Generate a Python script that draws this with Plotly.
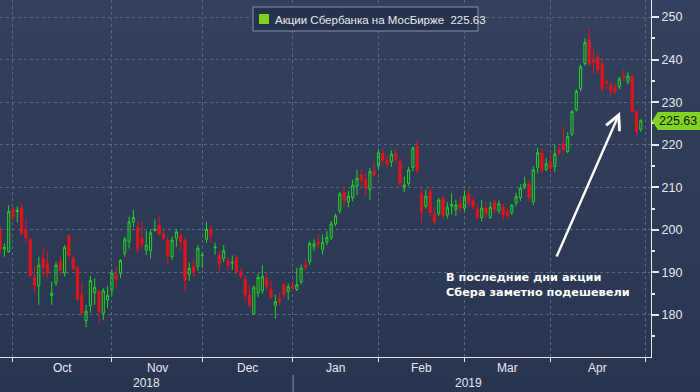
import plotly.graph_objects as go

# ---------------- data (trading-day index, OHLC) ----------------
open_ = [199.8, 195.5, 194.9, 204.8, 204.3, 205.1, 200.0, 197.8, 188.8, 186.9,
         193.3, 192.0, 184.6, 187.6, 192.5, 189.9, 198.6, 193.3, 191.1, 184.6,
         178.7, 182.2, 185.2, 185.6, 180.4, 183.5, 185.9, 189.4, 189.8, 194.5,
         197.2, 201.9, 200.5, 198.0, 195.3, 195.1, 199.9, 201.1, 199.0, 197.5,
         193.7, 198.0, 198.6, 197.6, 189.6, 191.5, 191.4, 194.0, 197.8, 200.1,
         195.8, 194.1, 193.3, 192.8, 192.2, 193.5, 190.2, 188.4, 184.7, 180.2,
         185.2, 185.7, 188.6, 186.1, 182.2, 183.7, 187.2, 185.5, 186.8, 186.0,
         187.8, 191.7, 192.5, 196.1, 197.2, 195.4, 197.2, 198.2, 201.4, 204.5,
         208.8, 206.6, 207.6, 210.3, 212.9, 211.9, 209.5, 213.8, 215.0, 218.0,
         216.4, 216.0, 218.0, 216.0, 210.0, 210.9, 214.7, 219.7, 208.6, 205.6,
         209.0, 203.7, 203.9, 207.4, 203.5, 205.6, 204.8, 206.1, 205.1, 208.4,
         206.9, 204.8, 202.9, 205.1, 202.9, 206.4, 204.5, 205.4, 204.3, 204.0,
         206.4, 207.6, 210.1, 210.8, 206.6, 214.7, 218.1, 214.2, 216.0, 214.9,
         218.9, 220.2, 218.4, 222.5, 228.2, 233.2, 239.1, 244.6, 240.1, 240.5,
         239.1, 234.8, 234.0, 233.5, 233.6, 236.1, 234.8, 236.0, 227.8, 223.6]
high = [200.9, 196.8, 205.8, 205.6, 205.5, 206.1, 202.5, 198.0, 191.5, 193.7,
        195.9, 195.0, 187.8, 192.5, 193.9, 196.4, 199.0, 194.1, 191.5, 187.6,
        182.4, 189.2, 188.6, 186.0, 186.3, 186.8, 190.7, 191.4, 193.1, 198.4,
        203.1, 204.7, 201.9, 201.9, 199.8, 200.0, 202.5, 203.5, 199.9, 198.3,
        198.4, 200.1, 199.3, 198.2, 192.4, 193.0, 196.4, 194.8, 201.8, 201.0,
        197.0, 195.2, 196.4, 193.6, 194.0, 194.0, 191.0, 189.2, 187.0, 186.9,
        189.8, 191.7, 190.0, 188.1, 184.8, 185.2, 187.6, 187.4, 187.5, 191.1,
        191.8, 193.2, 197.4, 197.8, 199.0, 198.9, 199.7, 202.1, 203.8, 208.9,
        210.1, 209.2, 211.8, 214.2, 214.3, 213.3, 214.5, 216.0, 219.0, 219.0,
        217.6, 218.7, 218.8, 216.8, 212.5, 214.8, 219.6, 221.0, 209.8, 209.4,
        209.9, 205.4, 207.5, 208.0, 206.5, 208.6, 207.1, 207.8, 209.3, 209.6,
        207.4, 206.1, 207.0, 206.5, 206.6, 207.3, 206.9, 206.2, 205.0, 206.1,
        208.7, 210.7, 212.5, 211.5, 215.0, 219.3, 219.3, 216.8, 218.0, 220.0,
        219.8, 224.2, 223.0, 228.2, 233.0, 238.8, 245.0, 247.3, 242.5, 241.8,
        239.8, 235.5, 234.8, 234.2, 236.0, 237.5, 237.0, 236.5, 228.0, 226.0]
low = [194.5, 193.7, 194.6, 202.3, 201.7, 198.8, 196.8, 189.0, 185.1, 182.4,
       188.8, 188.6, 182.4, 186.8, 189.4, 189.0, 193.3, 190.6, 183.5, 180.1,
       177.1, 180.5, 182.4, 178.2, 178.8, 181.6, 184.6, 186.6, 188.6, 193.7,
       195.6, 200.7, 194.5, 195.7, 194.1, 193.3, 199.6, 198.8, 197.5, 191.8,
       193.0, 196.0, 195.2, 185.5, 188.0, 189.0, 190.3, 191.0, 197.0, 197.0,
       194.2, 190.3, 192.4, 190.3, 190.6, 189.6, 188.5, 183.0, 181.9, 180.1,
       184.2, 185.0, 185.7, 183.9, 179.1, 182.3, 184.0, 183.4, 185.5, 185.6,
       187.2, 190.6, 191.8, 195.0, 195.6, 194.2, 196.4, 197.6, 200.9, 203.9,
       205.5, 205.3, 206.7, 208.2, 210.3, 207.9, 207.0, 212.3, 214.2, 215.2,
       214.4, 214.8, 215.6, 210.3, 208.9, 210.3, 213.7, 213.3, 201.7, 205.0,
       203.0, 201.3, 203.3, 202.5, 202.7, 203.6, 203.2, 204.1, 204.2, 205.4,
       204.8, 202.4, 202.0, 202.8, 202.6, 204.0, 203.8, 202.3, 202.9, 203.5,
       205.6, 206.8, 209.5, 206.5, 205.8, 213.3, 213.3, 213.8, 213.5, 213.6,
       217.5, 218.5, 218.0, 222.0, 227.8, 232.5, 238.5, 238.5, 236.8, 236.5,
       232.5, 233.0, 231.2, 231.8, 233.0, 235.0, 234.2, 227.5, 222.2, 223.0]
close = [195.3, 195.9, 204.3, 203.1, 204.6, 199.2, 198.2, 189.2, 186.9, 191.7,
         191.2, 189.8, 185.1, 191.7, 190.6, 195.9, 194.0, 190.8, 183.7, 180.5,
         180.9, 188.1, 186.5, 180.8, 185.7, 184.6, 189.8, 188.4, 192.8, 197.8,
         201.9, 202.9, 195.5, 196.6, 196.4, 199.3, 200.1, 198.9, 198.0, 193.9,
         197.6, 199.5, 197.2, 188.2, 190.9, 189.9, 195.7, 194.1, 200.1, 198.8,
         196.0, 192.1, 195.1, 191.6, 192.4, 190.2, 189.2, 184.7, 182.3, 186.5,
         188.8, 189.0, 186.7, 184.2, 183.1, 183.2, 184.7, 186.6, 186.3, 187.1,
         191.0, 191.2, 196.8, 196.7, 196.7, 197.0, 198.2, 201.4, 203.3, 208.4,
         207.0, 207.9, 210.5, 212.1, 211.7, 209.8, 213.7, 212.9, 218.1, 216.4,
         215.5, 217.8, 216.6, 210.8, 210.5, 214.1, 219.2, 213.9, 204.3, 207.9,
         204.0, 201.9, 207.0, 203.3, 205.3, 205.9, 205.8, 205.2, 207.9, 206.4,
         205.4, 202.9, 205.1, 203.9, 205.3, 204.8, 206.1, 203.5, 203.3, 205.8,
         207.8, 209.8, 210.8, 207.6, 214.1, 218.1, 213.9, 215.5, 214.5, 217.8,
         218.1, 218.9, 221.9, 227.8, 232.5, 238.3, 244.0, 239.0, 239.5, 237.7,
         233.2, 234.4, 232.7, 232.5, 235.4, 235.8, 236.1, 227.8, 223.1, 225.63]

month_labels = ["Oct", "Nov", "Dec", "Jan", "Feb", "Mar", "Apr"]
month_start = [3, 26, 47, 68, 88, 108, 128, 150]   # index of first trading day
year_labels = ["2018", "2019"]
year_bounds = [0, 68, 150]
y_ticks = [180, 190, 200, 210, 220, 230, 240, 250]
series_name = "Акции Сбербанка на МосБирже"
last_price = close[-1]
note_lines = ["В последние дни акции", "Сбера заметно подешевели"]

x = list(range(len(close)))

# ---------------- style ----------------
BG = "#2e3b57"
GREEN = "#22d422"
RED = "#e3141c"
LIME = "#82d320"
GRID = "#596883"
AXIS = "#e4e8ee"
TXT = "#e6e9ef"

W, H = 700, 392
ML, MR, MT, MB = 0, 49, 0, 35
PW, PH = W - ML - MR, H - MT - MB


def px(xp):
    return xp / PW


def py(yp):
    return (PH - yp) / PH


fig = go.Figure(go.Candlestick(
    x=x, open=open_, high=high, low=low, close=close,
    increasing=dict(line=dict(color=GREEN, width=1), fillcolor="rgba(0,0,0,0)"),
    decreasing=dict(line=dict(color=RED, width=1), fillcolor=RED),
    whiskerwidth=0, showlegend=False, hoverinfo="skip",
))

shapes = []
annotations = []

# subtle vertical background gradient (top lighter, bottom darker)
top_rgb = (0x34, 0x41, 0x5e)
bot_rgb = (0x29, 0x35, 0x50)
NB = 28
for k in range(NB):
    t = k / (NB - 1)
    c = tuple(round(top_rgb[j] + (bot_rgb[j] - top_rgb[j]) * t) for j in range(3))
    y0p = H * k / NB
    y1p = H * (k + 1) / NB + 1
    shapes.append(dict(type="rect", xref="paper", yref="paper", layer="below",
                       x0=px(-1), x1=px(W + 1), y0=py(y1p), y1=py(y0p),
                       fillcolor="rgb(%d,%d,%d)" % c, line=dict(width=0)))

# legend box
shapes.append(dict(type="rect", xref="paper", yref="paper",
                   x0=px(253), x1=px(478), y0=py(31), y1=py(7),
                   fillcolor="#27334c", line=dict(color="#8891a3", width=1)))
shapes.append(dict(type="rect", xref="paper", yref="paper",
                   x0=px(259), x1=px(269), y0=py(24), y1=py(14),
                   fillcolor=LIME, line=dict(width=0)))
annotations.append(dict(xref="paper", yref="paper", x=px(273), y=py(20),
                        xanchor="left", yanchor="middle", showarrow=False,
                        text=f"{series_name}  {last_price:.2f}",
                        font=dict(family="Liberation Sans", size=11.5, color=TXT)))

# last price tag
shapes.append(dict(type="path", xref="paper", yref="paper",
                   path=(f"M{px(652)},{py(121)} L{px(658)},{py(112)} L{px(700)},{py(112)} "
                         f"L{px(700)},{py(130)} L{px(658)},{py(130)} Z"),
                   fillcolor=LIME, line=dict(width=0)))
annotations.append(dict(xref="paper", yref="y", x=px(678), y=last_price,
                        xanchor="center", yanchor="middle", showarrow=False,
                        text=f"{last_price:.2f}",
                        font=dict(family="Liberation Sans", size=12.5, color="#141414")))

# month labels
for i, lab in enumerate(month_labels):
    annotations.append(dict(xref="x", yref="paper",
                            x=(month_start[i] + month_start[i + 1]) / 2, y=py(368),
                            xanchor="center", yanchor="middle", showarrow=False, text=lab,
                            font=dict(family="Liberation Sans", size=12, color=TXT)))
# year labels
for i, lab in enumerate(year_labels):
    annotations.append(dict(xref="x", yref="paper",
                            x=(year_bounds[i] + year_bounds[i + 1]) / 2, y=py(383),
                            xanchor="center", yanchor="middle", showarrow=False, text=lab,
                            font=dict(family="Liberation Sans", size=12, color=TXT)))
shapes.append(dict(type="line", xref="x", yref="paper",
                   x0=year_bounds[1] + 0.15, x1=year_bounds[1] + 0.15, y0=py(375), y1=py(392),
                   line=dict(color="#8a93a5", width=1)))

# arrow + note
annotations.append(dict(xref="paper", yref="paper", x=px(620), y=py(112),
                        ax=-64, ay=146, axref="pixel", ayref="pixel",
                        showarrow=True, arrowhead=5, arrowsize=1.2, arrowwidth=2.4,
                        arrowcolor="#ffffff", text=""))
annotations.append(dict(xref="paper", yref="paper", x=px(444), y=py(285),
                        xanchor="left", yanchor="middle", align="left", showarrow=False,
                        text="<br>".join(note_lines),
                        font=dict(family="DejaVu Sans", size=11.3, color="#ffffff", weight="bold")))

fig.update_layout(
    width=W, height=H,
    margin=dict(l=ML, r=MR, t=MT, b=MB),
    paper_bgcolor=BG, plot_bgcolor="rgba(0,0,0,0)",
    showlegend=False,
    shapes=shapes, annotations=annotations,
    xaxis=dict(
        range=[-0.02, 151.37], rangeslider=dict(visible=False),
        tickvals=month_start, showticklabels=False,
        ticks="outside", ticklen=4, tickcolor=AXIS,
        showgrid=True, gridcolor=GRID, gridwidth=1, griddash="3px,3px",
        showline=True, linecolor=AXIS, linewidth=1, zeroline=False,
        fixedrange=True,
    ),
    yaxis=dict(
        side="right", range=[170.13, 254.0],
        tickvals=y_ticks, ticks="outside", ticklen=7, tickwidth=1.5, tickcolor=AXIS,
        tickfont=dict(family="Liberation Sans", size=12.5, color=TXT),
        showgrid=True, gridcolor=GRID, gridwidth=1, griddash="3px,3px",
        showline=True, linecolor=AXIS, linewidth=1, zeroline=False,
        minor=dict(tickvals=[v + 5 for v in y_ticks[:-1]] + [175], ticks="outside",
                   ticklen=3, tickcolor=AXIS, showgrid=False),
        fixedrange=True,
    ),
)

fig.write_html("out.html")
